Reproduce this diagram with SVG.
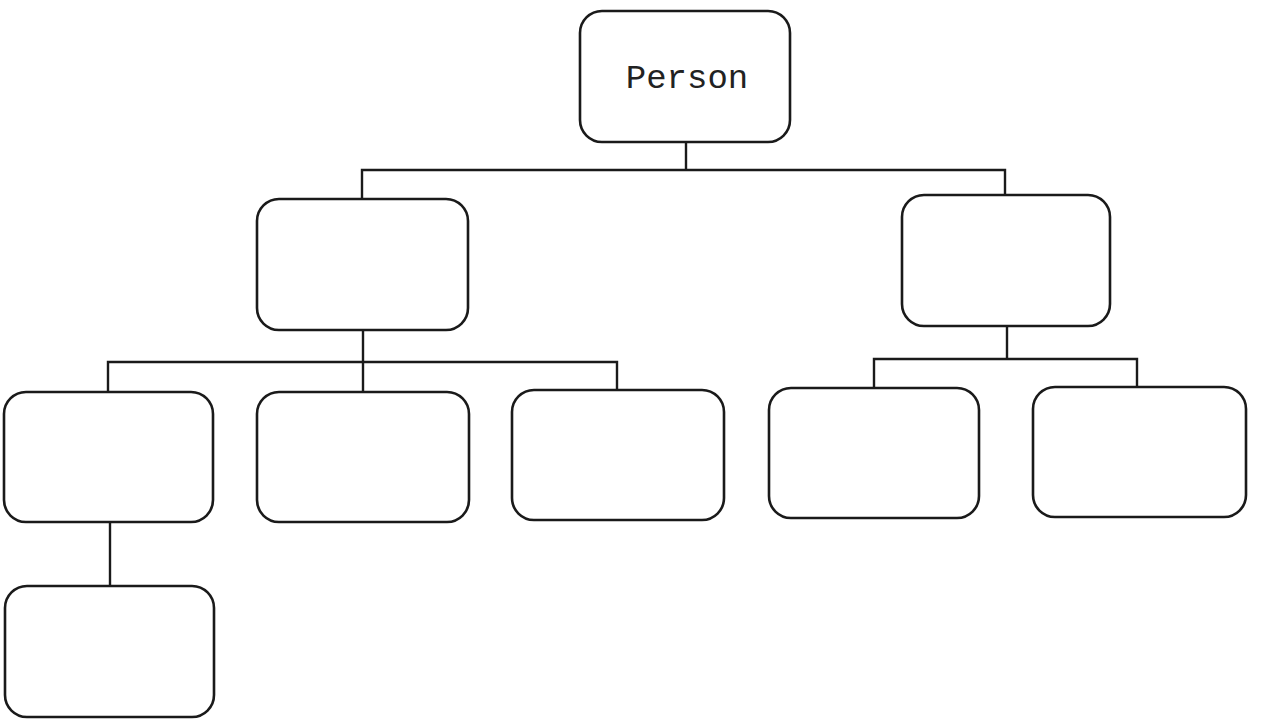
<svg xmlns="http://www.w3.org/2000/svg" width="1262" height="726" viewBox="0 0 1262 726">
<style>
.node{fill:#fff;stroke:#1a1a1a;stroke-width:2.6}
.conn{fill:none;stroke:#1a1a1a;stroke-width:2.4}
.label{font-family:"Liberation Mono","Courier New",monospace;font-size:34px;fill:#222}
</style>
<rect width="1262" height="726" fill="#fff"/>
<g id="connectors" class="conn">
<path d="M686 142 V170"/>
<path d="M362 199 V170 H1005 V195"/>
<path d="M363 330 V362"/>
<path d="M108 392 V362 H617 V390"/>
<path d="M363 362 V392"/>
<path d="M110 522 V586"/>
<path d="M1007 326 V359"/>
<path d="M874 388 V359 H1137 V387"/>
</g>
<g id="person"><rect class="node" x="580" y="11" width="210" height="131" rx="22"/><text class="label" x="687" y="88" text-anchor="middle">Person</text></g>
<g id="mid-left"><rect class="node" x="257" y="199" width="211" height="131" rx="22"/></g>
<g id="mid-right"><rect class="node" x="902" y="195" width="208" height="131" rx="22"/></g>
<g id="leaf-1"><rect class="node" x="4" y="392" width="209" height="130" rx="22"/></g>
<g id="leaf-2"><rect class="node" x="257" y="392" width="212" height="130" rx="22"/></g>
<g id="leaf-3"><rect class="node" x="512" y="390" width="212" height="130" rx="22"/></g>
<g id="leaf-4"><rect class="node" x="769" y="388" width="210" height="130" rx="22"/></g>
<g id="leaf-5"><rect class="node" x="1033" y="387" width="213" height="130" rx="22"/></g>
<g id="leaf-1-1"><rect class="node" x="5" y="586" width="209" height="131" rx="22"/></g>
</svg>
